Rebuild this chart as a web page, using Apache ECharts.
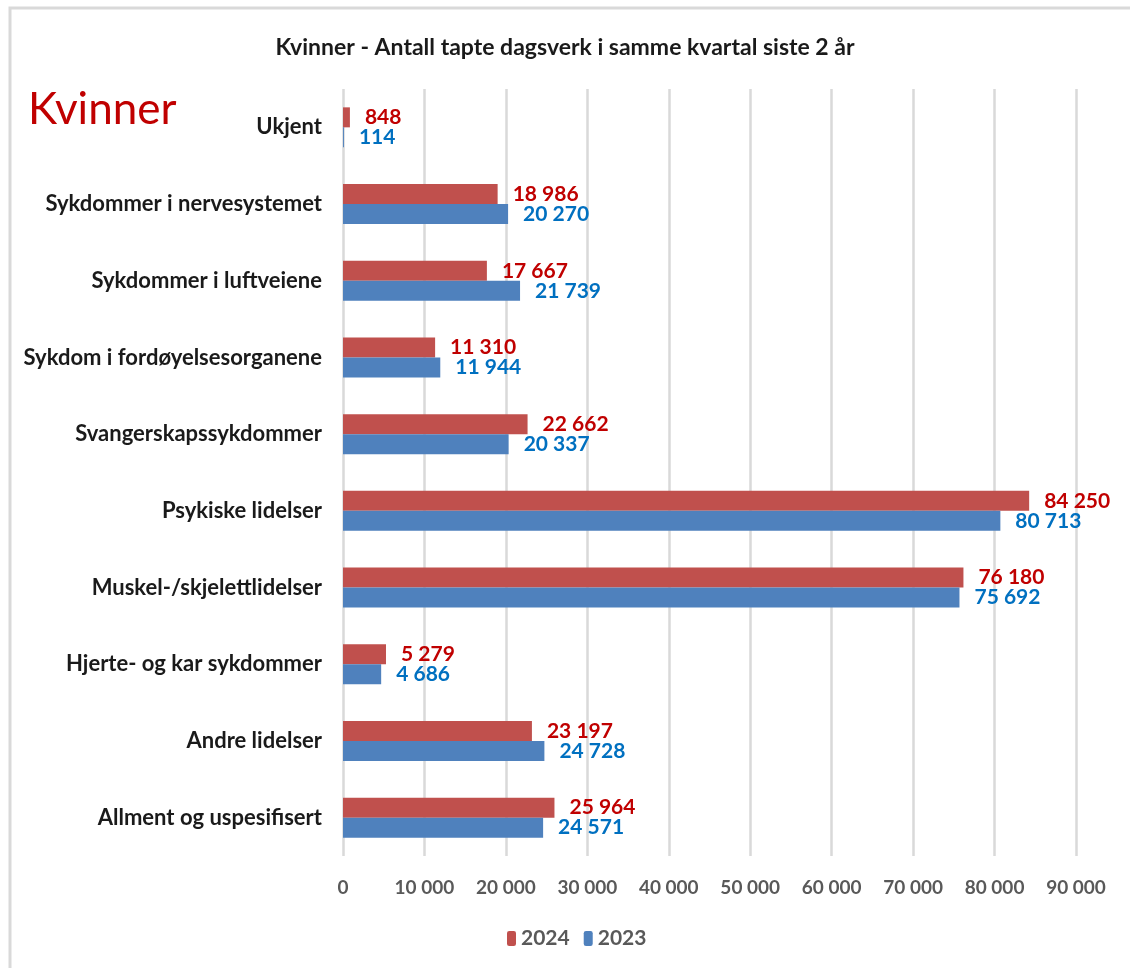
<!DOCTYPE html>
<html lang="no">
<head>
    <meta charset="utf-8">
    <title>Kvinner - tapte dagsverk</title>
    <script src="https://cdn.jsdelivr.net/npm/echarts@6/dist/echarts.min.js"></script>
    <style>
        html, body { margin: 0; padding: 0; background: #fff; }
        #chart { width: 1130px; height: 968px; }
    </style>
</head>
<body>
<div id="chart"></div>
<script>
var categories = ['Ukjent', 'Sykdommer i nervesystemet', 'Sykdommer i luftveiene',
    'Sykdom i fordøyelsesorganene', 'Svangerskapssykdommer', 'Psykiske lidelser',
    'Muskel-/skjelettlidelser', 'Hjerte- og kar sykdommer', 'Andre lidelser',
    'Allment og uspesifisert'];
var values2024 = [848, 18986, 17667, 11310, 22662, 84250, 76180, 5279, 23197, 25964];
var values2023 = [114, 20270, 21739, 11944, 20337, 80713, 75692, 4686, 24728, 24571];

function fmt(v) {
    return String(v).replace(/\B(?=(\d{3})+(?!\d))/g, ' ');
}

var font = 'Lato, "Open Sans", sans-serif';
var chart = echarts.init(document.getElementById('chart'));
chart.setOption({
    animation: false,
    textStyle: { fontFamily: font },
    title: {
        text: 'Kvinner - Antall tapte dagsverk i samme kvartal siste 2 år',
        left: 'center',
        top: 31,
        textStyle: { fontSize: 23, fontWeight: 'bold', color: '#1a1a1a', fontFamily: font }
    },
    graphic: [
        {
            type: 'rect',
            shape: { x: 10, y: 8, width: 1200, height: 1000 },
            style: { fill: 'none', stroke: '#d9d9d9', lineWidth: 3 },
            silent: true
        },
        {
            type: 'text',
            left: 28,
            top: 88,
            style: { text: 'Kvinner', fill: '#c00000', fontSize: 44, fontFamily: font }
        }
    ],
    legend: {
        data: ['2024', '2023'],
        bottom: 14,
        left: 502,
        itemWidth: 9,
        itemHeight: 15,
        itemGap: 14,
        textStyle: { fontSize: 21, fontWeight: 'bold', color: '#595959', fontFamily: font }
    },
    grid: { left: 343, right: 54, top: 89, bottom: 112 },
    xAxis: {
        type: 'value',
        min: 0,
        max: 90000,
        interval: 10000,
        axisLine: { show: false },
        axisTick: { show: false },
        splitLine: { lineStyle: { color: '#d9d9d9', width: 2.5 } },
        axisLabel: {
            margin: 22,
            fontSize: 19,
            fontWeight: 'bold',
            color: '#595959',
            formatter: fmt
        }
    },
    yAxis: {
        type: 'category',
        data: categories,
        inverse: true,
        axisLine: { show: false },
        axisTick: { show: false },
        axisLabel: { margin: 21, fontSize: 22, fontWeight: 'bold', color: '#1a1a1a' }
    },
    series: [
        {
            name: '2024',
            type: 'bar',
            data: values2024,
            barWidth: 20,
            barGap: '0%',
            itemStyle: { color: '#c0504d' },
            label: {
                show: true, position: 'right', distance: 15,
                fontSize: 21, fontWeight: 'bold', color: '#c00000',
                formatter: function (p) { return fmt(p.value); }
            }
        },
        {
            name: '2023',
            type: 'bar',
            data: values2023,
            barWidth: 20,
            barGap: '0%',
            itemStyle: { color: '#4f81bd' },
            label: {
                show: true, position: 'right', distance: 15,
                fontSize: 21, fontWeight: 'bold', color: '#0070c0',
                formatter: function (p) { return fmt(p.value); }
            }
        }
    ]
});
window.onresize = chart.resize;
</script>
</body>
</html>
